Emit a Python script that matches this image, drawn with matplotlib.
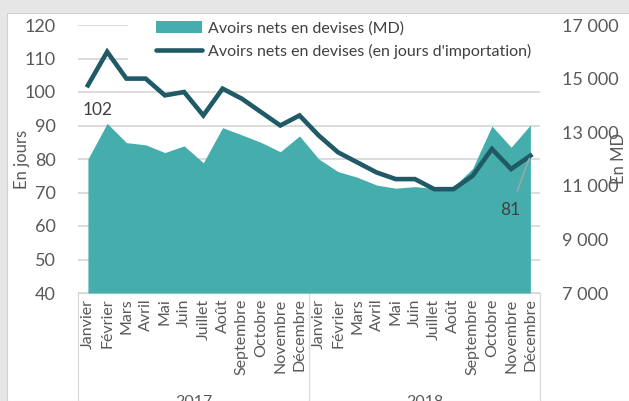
import matplotlib.pyplot as plt
from matplotlib.patches import Rectangle
from matplotlib.lines import Line2D
from matplotlib.patches import Patch
import matplotlib.transforms as mtransforms

plt.rcParams['font.family'] = ['Lato', 'DejaVu Sans']

AREA_COLOR = '#46adad'
LINE_COLOR = '#1f5a66'
GRID_COLOR = '#d9d9d9'
TEXT_COLOR = '#595959'

months = ['Janvier', 'Février', 'Mars', 'Avril', 'Mai', 'Juin', 'Juillet',
          'Août', 'Septembre', 'Octobre', 'Novembre', 'Décembre']
years = ['2017', '2018']

# net foreign assets, in days of imports (left axis)
jours = [102, 112, 104, 104, 99, 100, 93, 101, 98, 94, 90, 93,
         87, 82, 79, 76, 74, 74, 71, 71, 75, 83, 77, 81]
# net foreign assets, in MD (right axis)
md = [12000, 13330, 12610, 12530, 12240, 12490, 11860, 13170, 12900, 12620, 12270, 12860,
      12000, 11530, 11320, 11030, 10910, 10970, 10900, 10950, 11650, 13230, 12440, 13270]

labels = [m for y in years for m in months]
x = list(range(len(labels)))

fig = plt.figure(figsize=(6.29, 4.01), dpi=100, facecolor='#e6e6e6')
fig.patches.append(Rectangle((7 / 629, 0), 1, 1 - 13 / 401, transform=fig.transFigure,
                             facecolor='white', edgecolor='#d0d0d0', lw=0.8, zorder=-10))

rect = [78.3 / 629, 1 - 293 / 401, 461.7 / 629, 268 / 401]
ax = fig.add_axes(rect)          # days scale, gridlines
ax2 = ax.twinx()                 # MD scale, area
ax3 = ax.twinx()                 # days scale, line on top

for a in (ax, ax2, ax3):
    a.set_xlim(-0.5, len(x) - 0.5)
    for s in ('left', 'right', 'top'):
        a.spines[s].set_visible(False)
    a.patch.set_visible(False)
ax.spines['bottom'].set_color(GRID_COLOR)
ax2.spines['bottom'].set_visible(False)
ax3.spines['bottom'].set_visible(False)

ax.set_ylim(40, 120)
ax.set_yticks(range(40, 121, 10))
ax.grid(axis='y', color=GRID_COLOR, lw=1.3)
ax.set_axisbelow(True)
ax.tick_params(axis='y', length=0, labelsize=13, labelcolor=TEXT_COLOR, pad=16)
ax.set_ylabel('En jours', fontsize=12, color=TEXT_COLOR, va='center')
ax.yaxis.set_label_coords(-0.123, 0.5)

ax.set_xticks(x)
ax.set_xticklabels(labels, rotation=90, fontsize=11.5, color=TEXT_COLOR)
ax.tick_params(axis='x', length=0, pad=4)

# white block behind the legend hides the gridlines there
ax.add_patch(Rectangle((0.108, 0.855), 0.95, 0.17, transform=ax.transAxes,
                       facecolor='white', edgecolor='none', zorder=1, clip_on=False))

ax2.set_ylim(7000, 17000)
ax2.set_yticks(range(7000, 17001, 2000))
ax2.set_yticklabels([f'{v:,}'.replace(',', ' ') for v in range(7000, 17001, 2000)])
ax2.tick_params(axis='y', length=0, labelsize=13, labelcolor=TEXT_COLOR, pad=16)
ax2.set_ylabel('En MD', fontsize=12, color=TEXT_COLOR, va='center')
ax2.yaxis.set_label_coords(1.172, 0.5)
ax2.fill_between(x, md, 7000, color=AREA_COLOR, lw=0)

ax3.set_ylim(40, 120)
ax3.set_yticks([])
ax3.plot(x, jours, color=LINE_COLOR, lw=3.3, solid_joinstyle='miter')

ax3.annotate(str(jours[0]), (x[0], jours[0]), xytext=(10, -25), textcoords='offset pixels',
             ha='center', va='center', fontsize=12.5, color='#404040')
ax3.annotate(str(jours[-1]), (x[-1], jours[-1]), xytext=(-20, -54), textcoords='offset pixels',
             ha='center', va='center', fontsize=12.5, color='#404040',
             arrowprops=dict(arrowstyle='-', color='#a6a6a6', lw=1, shrinkA=6, shrinkB=2))

# group separators and year labels under the month names
trans = mtransforms.blended_transform_factory(ax.transData, ax.transAxes)
n = len(months)
for i in range(len(years) + 1):
    ax.add_line(Line2D([i * n - 0.5] * 2, [0, -0.45], transform=trans,
                       color='#dadada', lw=0.9, clip_on=False))
for i, yr in enumerate(years):
    ax.text(i * n + (n - 1) / 2, -0.405, yr, transform=trans, ha='center', va='center',
            fontsize=11.5, color=TEXT_COLOR)

handles = [Patch(facecolor=AREA_COLOR, edgecolor='none'),
           Line2D([], [], color=LINE_COLOR, lw=3.3, solid_capstyle='round')]
ax3.legend(handles, ['Avoirs nets en devises (MD)',
                     "Avoirs nets en devises (en jours d'importation)"],
           loc='upper left', bbox_to_anchor=(156 / 629, 1 - 21 / 401),
           bbox_transform=fig.transFigure, frameon=False, fontsize=11.5,
           handlelength=2.9, handleheight=0.8, handletextpad=0.35,
           labelspacing=0.5, borderpad=0, borderaxespad=0, labelcolor='#404040')

fig.savefig('out.png', dpi=100, facecolor=fig.get_facecolor())
